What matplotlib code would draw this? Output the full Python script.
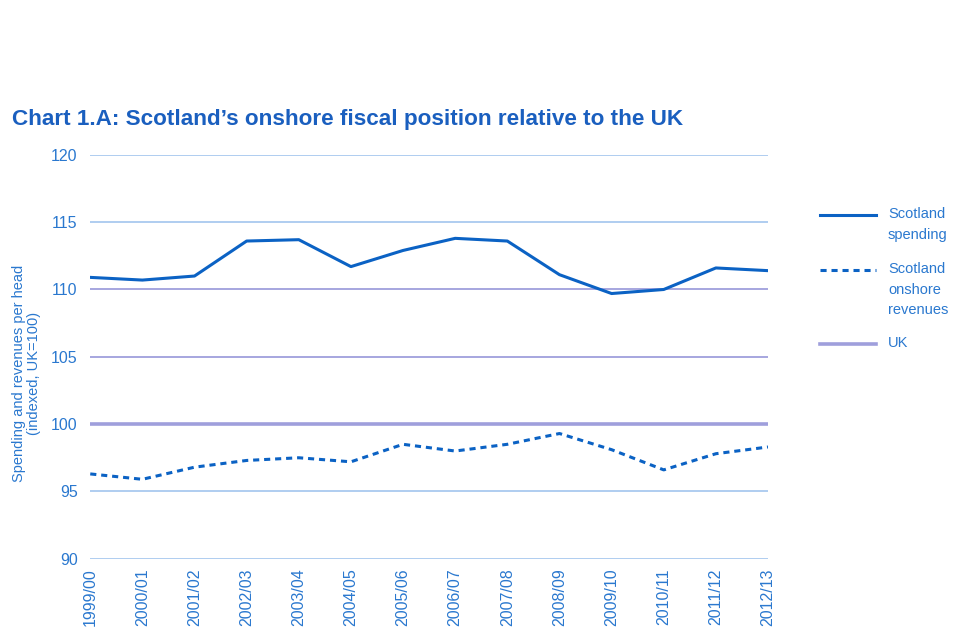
import numpy as np
import matplotlib.pyplot as plt
from matplotlib.lines import Line2D

years = ["1999/00", "2000/01", "2001/02", "2002/03", "2003/04", "2004/05", "2005/06",
         "2006/07", "2007/08", "2008/09", "2009/10", "2010/11", "2011/12", "2012/13"]
spending = [110.9, 110.7, 111.0, 113.6, 113.7, 111.7, 112.9,
            113.8, 113.6, 111.1, 109.7, 110.0, 111.6, 111.4]
revenues = [96.3, 95.9, 96.8, 97.3, 97.5, 97.2, 98.5,
            98.0, 98.5, 99.3, 98.1, 96.6, 97.8, 98.3]
uk = [100] * len(years)

blue = '#0b62c4'
text_blue = '#2a78cf'
grid_blue = '#a9c9ef'
purple = '#9f9fdc'

plt.rcParams['font.family'] = ['Liberation Sans', 'DejaVu Sans']

fig = plt.figure(figsize=(9.6, 6.4), dpi=100)
ax = fig.add_axes([0.094, 0.127, 0.706, 0.631])

x = np.arange(len(years))

# gridlines (the middle ones are purple-ish in the original)
grid_cols = {90: grid_blue, 95: grid_blue, 105: purple, 110: purple, 115: grid_blue, 120: grid_blue}
for lvl, c in grid_cols.items():
    ax.axhline(lvl, color=c, lw=1.3, zorder=1)

dash = (0, (2.0, 1.6))
ax.plot(x, uk, color=purple, lw=2.6, zorder=2)
ax.plot(x, spending, color=blue, lw=2.2, zorder=3)
ax.plot(x, revenues, color=blue, lw=2.2, ls=dash, zorder=3)

ax.set_xlim(0, len(years) - 1)
ax.set_ylim(90, 120)
ax.set_yticks(np.arange(90, 121, 5))
ax.set_xticks(x)
ax.set_xticklabels(years, rotation=90)
ax.tick_params(axis='both', length=0, colors=text_blue, labelsize=11.5)
ax.tick_params(axis='y', pad=9)
ax.tick_params(axis='x', pad=7)
for s in ax.spines.values():
    s.set_visible(False)

ax.set_ylabel('Spending and revenues per head\n(indexed, UK=100)', color=text_blue,
              fontsize=10.5, linespacing=1.1)
ax.yaxis.set_label_coords(-0.073, 0.46)

fig.text(0.0125, 0.804, "Chart 1.A: Scotland\u2019s onshore fiscal position relative to the UK",
         color='#1a5fbf', fontsize=16.2, fontweight='bold')

# legend drawn by hand so the key lines line up with the first text line
legend_items = [("Scotland\nspending", '-', blue, 2.2, 215),
                ("Scotland\nonshore\nrevenues", dash, blue, 2.2, 270),
                ("UK", '-', purple, 2.6, 344)]
W, H = 960, 640
for label, ls, col, lw, ypix in legend_items:
    yf = 1 - ypix / H
    fig.add_artist(Line2D([820 / W, 876 / W], [yf, yf], color=col, lw=lw, ls=ls))
    fig.text(888 / W, yf + 8 / H, label, color=text_blue, fontsize=10.5, va='top',
             linespacing=1.6)

fig.savefig('out.png', dpi=100)
